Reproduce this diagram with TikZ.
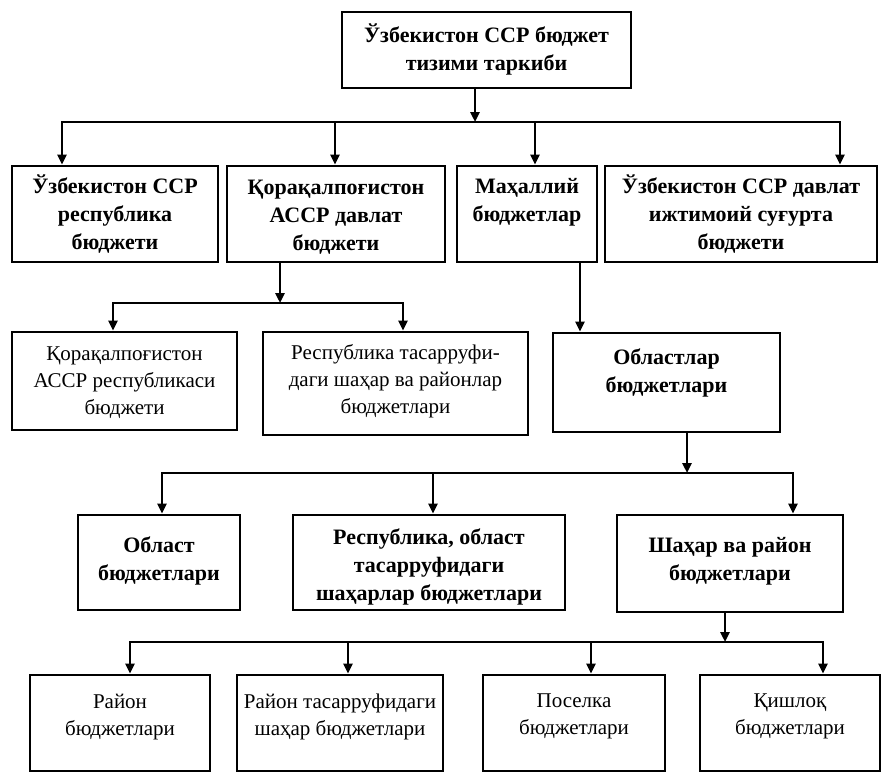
\documentclass[tikz,border=0pt]{standalone}
\usepackage{fontspec}
\setmainfont{Liberation Serif}
\usepackage{tikz}
\usetikzlibrary{arrows.meta,calc}
\tikzset{
    blk/.style={draw, line width=2.8pt, inner sep=0pt},
    txt/.style={anchor=north, align=center, inner sep=0pt},
    bus/.style={line width=2.8pt, line cap=rect}
}

\begin{document}
\begin{tikzpicture}[x=1pt,y=-1pt,>={Triangle[length=10pt,width=9pt]}]
\def\bs{\fontsize{22}{28}\selectfont\bfseries} % bold boxes
\def\rs{\fontsize{21}{27}\selectfont}          % plain boxes
\useasboundingbox (0,0) rectangle (883,774);
% boxes: name/left/top/right/bottom/text shift/font/text
\foreach \nm/\xl/\yt/\xr/\yb/\dy/\ff/\tx in {%
  top/342/12/631/88/13/\bs/{Ўзбекистон ССР бюджет\\тизими таркиби},
  resp/12/166/218/262/10/\bs/{Ўзбекистон ССР\\республика\\бюджети},
  qqr/227/166/445/262/15/\bs/{Қорақалпоғистон\\АССР давлат\\бюджети},
  mahal/457/166/597/262/14/\bs/{Маҳаллий\\бюджетлар},
  sugurta/605/166/877/262/10/\bs/{Ўзбекистон ССР давлат\\ижтимоий суғурта\\бюджети},
  qqresp/12/332/237/430/16/\rs/{Қорақалпоғистон\\АССР республикаси\\бюджети},
  shaharr/263/332/528/435/14/\rs/{Республика тасарруфи-\\даги шаҳар ва районлар\\бюджетлари},
  oblast/553/333/780/432/17/\bs/{Областлар\\бюджетлари},
  obl/78/515/240/610/23/\bs/{Област\\бюджетлари},
  respobl/293/515/565/610/15/\bs/{Республика, област\\тасарруфидаги\\шаҳарлар бюджетлари},
  shahar/617/515/843/612/24/\bs/{Шаҳар ва район\\бюджетлари},
  rayon/30/675/210/771/20/\rs/{Район\\бюджетлари},
  rayonsh/237/675/443/771/20/\rs/{Район тасарруфидаги\\шаҳар бюджетлари},
  posel/483/675/665/771/20/\rs/{Поселка\\бюджетлари},
  qishloq/700/675/880/771/20/\rs/{Қишлоқ\\бюджетлари}} {%
\node[blk, minimum width={(\xr-\xl)*1pt}, minimum height={(\yb-\yt)*1pt}] (\nm) at ({(\xl+\xr)/2},{(\yt+\yb)/2}) {};
\node[txt, font=\ff] (\nm-t) at ([yshift=-\dy pt]\nm.north) {\tx};
};
% first level
\coordinate (b1) at (475,122);
\draw[->,bus] (top.south -| b1) -- (b1);
\coordinate (d11) at (62,122); \coordinate (d12) at (335,122);
\coordinate (d13) at (535,122); \coordinate (d14) at (840,122);
\draw[bus] (d11) -- (d14);
\foreach \c/\n in {d11/resp,d12/qqr,d13/mahal,d14/sugurta} {%
\draw[->,bus] (\c) -- (\c |- \n.north);
};
% second level
\coordinate (b2) at (280,303);
\draw[->,bus] (qqr.south -| b2) -- (b2);
\coordinate (d21) at (113,303); \coordinate (d22) at (403,303);
\draw[bus] (d21) -- (d22);
\draw[->,bus] (d21) -- (d21 |- qqresp.north);
\draw[->,bus] (d22) -- (d22 |- shaharr.north);
\coordinate (d23) at (580,262);
\draw[->,bus] (d23) -- (d23 |- oblast.north);
% third level
\coordinate (b3) at (687,473);
\draw[->,bus] (oblast.south -| b3) -- (b3);
\coordinate (d31) at (162,473); \coordinate (d32) at (433,473); \coordinate (d33) at (793,473);
\draw[bus] (d31) -- (d33);
\foreach \c/\n in {d31/obl,d32/respobl,d33/shahar} {%
\draw[->,bus] (\c) -- (\c |- \n.north);
};
% fourth level
\coordinate (b4) at (725,642);
\draw[->,bus] (shahar.south -| b4) -- (b4);
\coordinate (d41) at (130,642); \coordinate (d42) at (348,642);
\coordinate (d43) at (591,642); \coordinate (d44) at (823,642);
\draw[bus] (d41) -- (d44);
\foreach \c/\n in {d41/rayon,d42/rayonsh,d43/posel,d44/qishloq} {%
\draw[->,bus] (\c) -- (\c |- \n.north);
};
\end{tikzpicture}
\end{document}
